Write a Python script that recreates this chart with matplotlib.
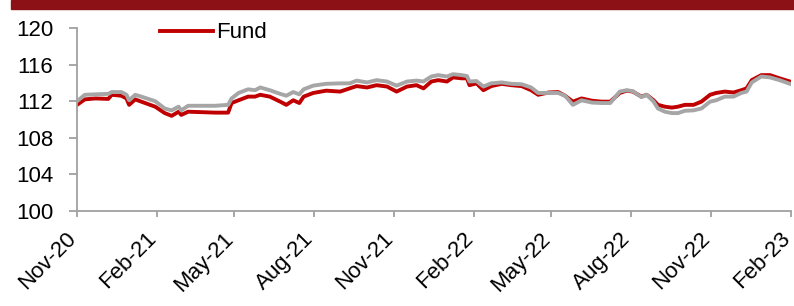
import matplotlib
matplotlib.use("Agg")
import matplotlib.pyplot as plt
import matplotlib.dates as mdates
import pandas as pd
from matplotlib.patches import Rectangle

plt.rcParams["font.family"] = ["Liberation Sans", "DejaVu Sans"]

dates = [
    "2020-11-01", "2020-11-10", "2020-11-22", "2020-12-07", "2020-12-11", "2020-12-22",
    "2020-12-28", "2020-12-31", "2021-01-07", "2021-01-14", "2021-01-30", "2021-02-10",
    "2021-02-18", "2021-02-26", "2021-03-01", "2021-03-09", "2021-03-25", "2021-04-09",
    "2021-04-24", "2021-04-28", "2021-05-06", "2021-05-17", "2021-05-25", "2021-05-31",
    "2021-06-11", "2021-06-23", "2021-06-30", "2021-07-08", "2021-07-15", "2021-07-20",
    "2021-07-31", "2021-08-15", "2021-08-31", "2021-09-11", "2021-09-19", "2021-10-01",
    "2021-10-12", "2021-10-24", "2021-11-04", "2021-11-16", "2021-11-27", "2021-12-05",
    "2021-12-14", "2021-12-22", "2022-01-01", "2022-01-08", "2022-01-18", "2022-01-24",
    "2022-01-27", "2022-02-04", "2022-02-12", "2022-02-21", "2022-03-05", "2022-03-16",
    "2022-03-28", "2022-04-08", "2022-04-16", "2022-04-28", "2022-05-09", "2022-05-17",
    "2022-05-26", "2022-06-05", "2022-06-17", "2022-06-28", "2022-07-08", "2022-07-19",
    "2022-07-27", "2022-08-03", "2022-08-13", "2022-08-19", "2022-08-27", "2022-09-01",
    "2022-09-09", "2022-09-17", "2022-09-24", "2022-10-02", "2022-10-12", "2022-10-21",
    "2022-10-31", "2022-11-07", "2022-11-17", "2022-11-27", "2022-12-06", "2022-12-12",
    "2022-12-18", "2022-12-29", "2023-01-08", "2023-01-19", "2023-01-31",
]

fund = [
    111.6, 112.2, 112.3, 112.25, 112.7, 112.6,
    112.3, 111.6, 112.2, 111.95, 111.4, 110.7,
    110.4, 110.85, 110.5, 110.85, 110.8, 110.75,
    110.75, 111.8, 112.1, 112.5, 112.5, 112.7,
    112.5, 111.95, 111.6, 112.1, 111.8, 112.5,
    112.9, 113.15, 113.05, 113.4, 113.65, 113.5,
    113.75, 113.6, 113.05, 113.6, 113.75, 113.4,
    114.15, 114.3, 114.15, 114.6, 114.5, 114.5,
    113.75, 113.95, 113.2, 113.65, 113.9, 113.75,
    113.65, 113.2, 112.7, 112.95, 113.0, 112.6,
    111.95, 112.3, 112.05, 111.95, 111.95, 112.9,
    113.15, 113.05, 112.5, 112.7, 112.1, 111.6,
    111.4, 111.3, 111.4, 111.6, 111.6, 111.95,
    112.7, 112.9, 113.05, 112.95, 113.2, 113.4,
    114.3, 114.85, 114.85, 114.5, 114.15,
]

benchmark = [
    112.0, 112.7, 112.75, 112.8, 113.0, 113.0,
    112.7, 112.1, 112.7, 112.5, 112.0, 111.2,
    111.0, 111.4, 111.0, 111.5, 111.5, 111.5,
    111.6, 112.3, 112.9, 113.3, 113.2, 113.5,
    113.2, 112.8, 112.6, 113.0, 112.75, 113.3,
    113.7, 113.9, 113.95, 113.95, 114.25, 114.05,
    114.3, 114.15, 113.7, 114.15, 114.25, 114.15,
    114.7, 114.85, 114.7, 114.95, 114.85, 114.75,
    114.15, 114.2, 113.6, 113.95, 114.05, 113.9,
    113.85, 113.5, 112.9, 112.9, 112.9, 112.6,
    111.6, 112.1, 111.85, 111.8, 111.8, 113.05,
    113.2, 113.1, 112.45, 112.7, 111.95, 111.2,
    110.85, 110.7, 110.7, 110.95, 111.0, 111.2,
    111.95, 112.1, 112.5, 112.5, 112.9, 113.05,
    114.05, 114.7, 114.6, 114.3, 113.9,
]

tick_dates = ["2020-11-01", "2021-02-01", "2021-05-01", "2021-08-01", "2021-11-01",
              "2022-02-01", "2022-05-01", "2022-08-01", "2022-11-01", "2023-02-01"]
y_ticks = [100, 104, 108, 112, 116, 120]

x = pd.to_datetime(dates)
xt = pd.to_datetime(tick_dates)

fig = plt.figure(figsize=(7.94, 3.06), dpi=100)
ax = fig.add_axes([0.097, 0.3105, 0.899, 0.598])

# dark red band across the top
fig.patches.append(Rectangle((0.014, 0.969), 0.986, 0.031, transform=fig.transFigure,
                             color="#8B1116", zorder=0))

ax.plot(x, fund, color="#C00000", lw=2.8, label="Fund", zorder=2)
ax.plot(x, benchmark, color="#A6A6A6", lw=2.8, zorder=3)

ax.set_ylim(100, 120)
ax.set_yticks(y_ticks)
ax.set_xlim(xt[0], xt[-1])
ax.set_xticks(xt)
ax.xaxis.set_major_formatter(mdates.DateFormatter("%b-%y"))

for s in ["top", "right"]:
    ax.spines[s].set_visible(False)
for s in ["left", "bottom"]:
    ax.spines[s].set_color("#A0A0A0")
    ax.spines[s].set_linewidth(1.3)

ax.tick_params(axis="both", colors="#A0A0A0", labelcolor="black", length=4.5, width=1.3,
               labelsize=16)
ax.tick_params(axis="y", pad=11, length=6)
ax.tick_params(axis="x", pad=16)
plt.setp(ax.get_xticklabels(), rotation=45, ha="right", va="baseline",
         rotation_mode="anchor")

ax.legend(loc="center left", bbox_to_anchor=(0.116, 0.973), frameon=False, fontsize=16,
          handlelength=2.4, handletextpad=0.15, borderpad=0, borderaxespad=0)

fig.savefig("out.png", dpi=100)
